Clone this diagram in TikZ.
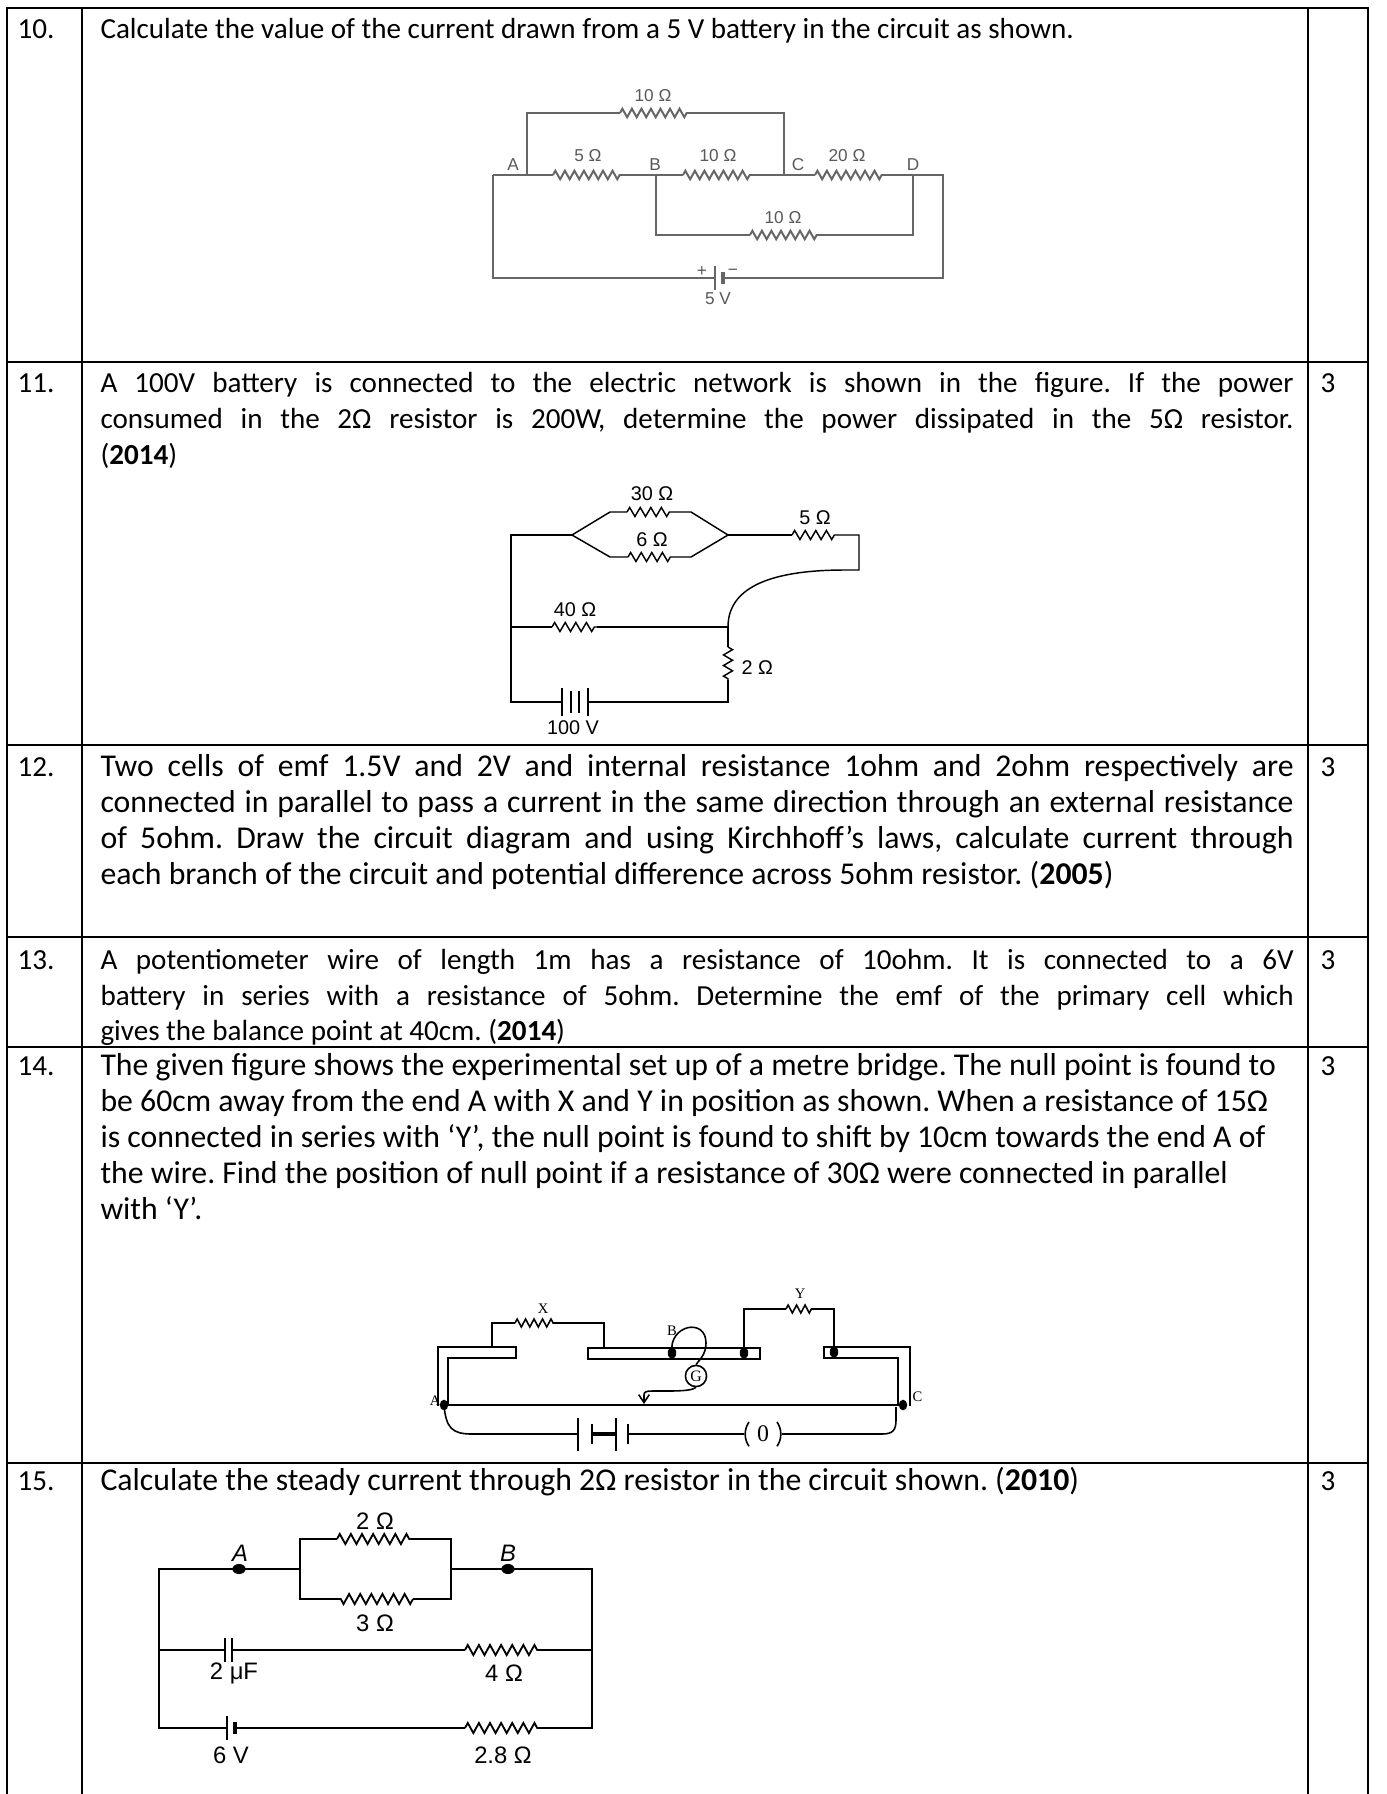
\documentclass[tikz,border=0pt]{standalone}
\usepackage{fontspec}
\setmainfont{Carlito}
\newfontfamily\cirf{Liberation Sans}
\newfontfamily\serf{Liberation Serif}
\usetikzlibrary{decorations.pathmorphing,arrows.meta}
\frenchspacing
\newlength\jw
\setlength\jw{451pt}
\newcommand{\jl}[1]{\makebox[\jw][s]{\spaceskip=.226em plus 1em minus .13em\relax #1}}
\begin{document}
\begin{tikzpicture}[x=0.378pt,y=-0.378pt,
  tx/.style={anchor=base west,inner sep=0pt,font=\fontsize{11}{13}\selectfont},
  tb/.style={anchor=base west,inner sep=0pt,font=\fontsize{12}{14}\selectfont},
  grid/.style={line width=1pt,line cap=rect},
  w10/.style={line width=0.75pt,draw=black!60},
  res10/.style={w10,decorate,decoration={zigzag,segment length=3.6pt,amplitude=1.6pt}},
  l10/.style={inner sep=0pt,font=\cirf\fontsize{6.5}{7}\selectfont,text=black!65},
  w11/.style={line width=0.55pt},
  res11/.style={w11,decorate,decoration={zigzag,segment length=4pt,amplitude=1.7pt}},
  l11/.style={inner sep=0pt,font=\cirf\fontsize{7.5}{8}\selectfont},
  w15/.style={line width=0.7pt},
  res15/.style={w15,decorate,decoration={zigzag,segment length=4.2pt,amplitude=1.9pt}},
  l15/.style={inner sep=0pt,font=\cirf\fontsize{9}{10}\selectfont},
  w14/.style={line width=0.6pt},
  res14/.style={w14,decorate,decoration={zigzag,segment length=3.2pt,amplitude=1.5pt}},
  l14/.style={inner sep=0pt,font=\serf\fontsize{5.5}{6}\selectfont},
]
\useasboundingbox (0,0) rectangle (1386,1794);
\fill[white] (0,0) rectangle (1386,1794);

% ---------------- table ----------------
\foreach \yy in {8,362,745,937,1047,1463} \draw[grid] (7,\yy) -- (1368,\yy);
\foreach \xx in {7,82,1308,1368} \draw[grid] (\xx,8) -- (\xx,1794);

% ---------------- texts ----------------
\node[tx] (n10) at (17,38) {10.};
\node[tx] (t10) at (100,38) {Calculate the value of the current drawn from a 5 V battery in the circuit as shown.};

\node[tx] (n11) at (17,392) {11.};
\node[tx] (t11a) at (100,392) {\jl{A 100V battery is connected to the electric network is shown in the figure. If the power}};
\node[tx] (t11b) at (100,428) {\jl{consumed in the 2Ω resistor is 200W, determine the power dissipated in the 5Ω resistor.}};
\node[tx] (t11c) at (100,464) {(\textbf{2014})};
\node[tx] (m11) at (1320,392) {3};

\node[tx] (n12) at (17,776) {12.};
\node[tb] (t12a) at (100,776) {\jl{Two cells of emf 1.5V and 2V and internal resistance 1ohm and 2ohm respectively are}};
\node[tb] (t12b) at (100,812) {\jl{connected in parallel to pass a current in the same direction through an external resistance}};
\node[tb] (t12c) at (100,848) {\jl{of 5ohm. Draw the circuit diagram and using Kirchhoff’s laws, calculate current through}};
\node[tb] (t12d) at (100,884) {each branch of the circuit and potential difference across 5ohm resistor. (\textbf{2005})};
\node[tx] (m12) at (1320,776) {3};

\node[tx] (n13) at (17,969) {13.};
\node[tx] (t13a) at (100,969) {\jl{A potentiometer wire of length 1m has a resistance of 10ohm. It is connected to a 6V}};
\node[tx] (t13b) at (100,1005) {\jl{battery in series with a resistance of 5ohm. Determine the emf of the primary cell which}};
\node[tx] (t13c) at (100,1040) {gives the balance point at 40cm. (\textbf{2014})};
\node[tx] (m13) at (1320,969) {3};

\node[tx] (n14) at (17,1075) {14.};
\node[tb] (t14a) at (100,1075) {The given figure shows the experimental set up of a metre bridge. The null point is found to};
\node[tb] (t14b) at (100,1111) {be 60cm away from the end A with X and Y in position as shown. When a resistance of 15Ω};
\node[tb] (t14c) at (100,1147) {is connected in series with ‘Y’, the null point is found to shift by 10cm towards the end A of};
\node[tb] (t14d) at (100,1183) {the wire. Find the position of null point if a resistance of 30Ω were connected in parallel};
\node[tb] (t14e) at (100,1219) {with ‘Y’.};
\node[tx] (m14) at (1320,1075) {3};

\node[tx] (n15) at (17,1490) {15.};
\node[tb] (t15) at (100,1490) {Calculate the steady current through 2Ω resistor in the circuit shown. (\textbf{2010})};
\node[tx] (m15) at (1320,1490) {3};

% ---------------- circuit 10 ----------------
\draw[w10] (493,175) -- (553,175);
\draw[res10] (553,175) -- (623,175);
\draw[w10] (623,175) -- (683,175);
\draw[res10] (683,175) -- (753,175);
\draw[w10] (753,175) -- (815,175);
\draw[res10] (815,175) -- (885,175);
\draw[w10] (885,175) -- (943,175) -- (943,278) -- (723,278);
\draw[w10] (715,278) -- (493,278) -- (493,175);
\draw[w10] (527,175) -- (527,113) -- (620,113);
\draw[res10] (620,113) -- (690,113);
\draw[w10] (690,113) -- (784,113) -- (784,175);
\draw[w10] (656,175) -- (656,235) -- (750,235);
\draw[res10] (750,235) -- (820,235);
\draw[w10] (820,235) -- (913,235) -- (913,175);
\draw[w10] (715,266) -- (715,290);
\draw[w10,line width=1.7pt] (723,272) -- (723,284);
\node[l10] (c10r1) at (653,96) {10 Ω};
\node[l10] (c10r2) at (588,156) {5 Ω};
\node[l10] (c10r3) at (718,156) {10 Ω};
\node[l10] (c10r4) at (847,156) {20 Ω};
\node[l10] (c10r5) at (783,218) {10 Ω};
\node[l10] (c10A) at (513,165) {A};
\node[l10] (c10B) at (655,165) {B};
\node[l10] (c10C) at (798,165) {C};
\node[l10] (c10D) at (913,165) {D};
\node[l10] (c10p) at (702,272) {+};
\node[l10] (c10m) at (733,272) {−};
\node[l10] (c10V) at (718,299) {5 V};

% ---------------- circuit 11 ----------------
\draw[w11] (572,535) -- (511,535) -- (511,702) -- (562,702);
\draw[w11] (572,535) -- (610,512) -- (627,512);
\draw[res11] (627,512) -- (672,512);
\draw[w11] (672,512) -- (691,512) -- (728,535);
\draw[w11] (572,535) -- (610,557) -- (628,557);
\draw[res11] (628,557) -- (673,557);
\draw[w11] (673,557) -- (691,557) -- (728,535);
\draw[w11] (728,535) -- (792,535);
\draw[res11] (792,535) -- (837,535);
\draw[w11] (837,535) -- (859,535) -- (859,570) -- (845,570) .. controls (765,570) and (728,590) .. (728,627);
\draw[w11] (511,627) -- (552,627);
\draw[res11] (552,627) -- (597,627);
\draw[w11] (597,627) -- (728,627) -- (728,647);
\draw[res11] (728,647) -- (728,680);
\draw[w11] (728,680) -- (728,702) -- (588,702);
\draw[w11] (562,688) -- (562,716);
\draw[w11] (571,691) -- (571,713);
\draw[w11] (579,691) -- (579,713);
\draw[w11] (588,688) -- (588,716);
\node[l11] (c11a) at (652,494) {30 Ω};
\node[l11] (c11b) at (652,540) {6 Ω};
\node[l11] (c11c) at (815,518) {5 Ω};
\node[l11] (c11d) at (575,610) {40 Ω};
\node[l11,anchor=west] (c11e) at (741,668) {2 Ω};
\node[l11] (c11f) at (573,728) {100 V};

% ---------------- circuit 14 (metre bridge) ----------------
\draw[w14] (438,1406) -- (438,1347) -- (516,1347) -- (516,1358) -- (448,1358) -- (448,1406);
\draw[w14] (588,1348) rectangle (760,1359);
\draw[w14] (910,1406) -- (910,1347) -- (824,1347) -- (824,1358) -- (898,1358) -- (898,1406);
\draw[w14] (492,1347) -- (492,1323) -- (515,1323);
\draw[res14] (515,1323) -- (557,1323);
\draw[w14] (557,1323) -- (604,1323) -- (604,1348);
\draw[w14] (744,1348) -- (744,1309) -- (786,1309);
\draw[res14] (786,1309) -- (814,1309);
\draw[w14] (814,1309) -- (834,1309) -- (834,1347);
\fill (672,1353) ellipse[x radius=1.6pt,y radius=2.2pt];
\fill (744,1353) ellipse[x radius=1.6pt,y radius=2.2pt];
\fill (834,1352) ellipse[x radius=1.6pt,y radius=2.2pt];
\fill (444,1405) ellipse[x radius=1.6pt,y radius=2pt];
\fill (903,1405) ellipse[x radius=1.6pt,y radius=2pt];
\draw[line width=0.9pt] (444,1405) -- (903,1405);
\node[draw,circle,minimum size=8pt,inner sep=0pt,line width=0.6pt,font=\serf\fontsize{6}{6}\selectfont] (G) at (696,1376) {G};
\draw[w14] (672,1353) .. controls (668,1325) and (706,1317) .. (706,1343) .. controls (706,1355) and (699,1360) .. (G.north);
\draw[w14,-{Straight Barb[length=3pt,width=4pt]}] (G.south) .. controls (693,1390) and (684,1391) .. (668,1391) -- (652,1391) .. controls (646,1391) and (644,1392) .. (644,1395) -- (644,1404);
\draw[w14] (444,1405) .. controls (446,1428) and (452,1434) .. (472,1434) -- (578,1434);
\draw[w14] (578,1418) -- (578,1451);
\draw[w14] (592,1424) -- (592,1444);
\draw[line width=1.2pt] (592,1434) -- (616,1434);
\draw[w14] (616,1418) -- (616,1451);
\draw[w14] (628,1424) -- (628,1444);
\draw[w14] (628,1434) -- (744,1434);
\draw[w14] (749,1422) arc[start angle=145,end angle=215,radius=8pt];
\draw[w14] (777,1422) arc[start angle=35,end angle=-35,radius=8pt];
\node[l14,font=\serf\fontsize{9}{9}\selectfont] (amm) at (763,1434) {0};
\draw[w14] (782,1434) -- (882,1434) .. controls (893,1434) and (896,1430) .. (896,1420) -- (896,1407);
\node[l14] (lX) at (543,1309) {X};
\node[l14] (lY) at (800,1294) {Y};
\node[l14] (lB) at (672,1331) {B};
\node[l14,anchor=east] (lA) at (441,1401) {A};
\node[l14,anchor=west] (lC) at (912,1397) {C};

% ---------------- circuit 15 ----------------
\draw[w15] (300,1569) -- (159,1569) -- (159,1728) -- (227,1728);
\draw[w15] (235,1728) -- (465,1728);
\draw[res15] (465,1728) -- (542,1728);
\draw[w15] (542,1728) -- (592,1728) -- (592,1569) -- (451,1569);
\draw[w15] (300,1569) -- (300,1539) -- (337,1539);
\draw[res15] (337,1539) -- (413,1539);
\draw[w15] (413,1539) -- (451,1539) -- (451,1599) -- (413,1599);
\draw[res15] (413,1599) -- (337,1599);
\draw[w15] (337,1599) -- (300,1599) -- (300,1569);
\draw[w15] (159,1650) -- (225,1650);
\draw[w15] (232,1650) -- (465,1650);
\draw[res15] (465,1650) -- (542,1650);
\draw[w15] (542,1650) -- (592,1650);
\draw[w15] (225,1638) -- (225,1662);
\draw[w15] (232,1638) -- (232,1662);
\draw[w15] (227,1716) -- (227,1740);
\draw[w15,line width=1.6pt] (235,1722) -- (235,1734);
\fill (239,1569) ellipse[x radius=2.5pt,y radius=1.9pt];
\fill (508,1569) ellipse[x radius=2.5pt,y radius=1.9pt];
\node[l15] (c15a) at (375,1521) {2 Ω};
\node[l15] (c15b) at (375,1623) {3 Ω};
\node[l15,font=\cirf\itshape\fontsize{9}{10}\selectfont] (c15A) at (240,1553) {A};
\node[l15,font=\cirf\itshape\fontsize{9}{10}\selectfont] (c15B) at (508,1553) {B};
\node[l15] (c15c) at (234,1673) {2 μF};
\node[l15] (c15d) at (504,1673) {4 Ω};
\node[l15] (c15e) at (231,1755) {6 V};
\node[l15] (c15f) at (503,1755) {2.8 Ω};
\end{tikzpicture}
\end{document}
